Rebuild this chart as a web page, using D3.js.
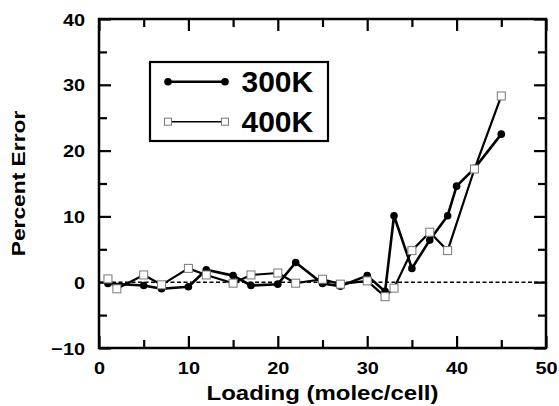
<!DOCTYPE html>
<html>
<head>
<meta charset="utf-8">
<script src="https://cdn.jsdelivr.net/npm/d3@7"></script>
<style>
  body { margin: 0; background: #fff; }
  text { font-family: "Liberation Sans", Arial, Helvetica, sans-serif; font-weight: bold; fill: #000; }
</style>
</head>
<body>
<svg id="chart" width="559" height="406"></svg>
<script>
// values
var loading300 = [1, 5, 7, 10, 12, 15, 17, 20, 22, 25, 27, 30, 32, 33, 35, 37, 39, 40, 42, 45];
var error300   = [-0.2, -0.5, -1.0, -0.7, 1.9, 1.0, -0.5, -0.3, 3.0, -0.2, -0.6, 1.0, -1.4, 10.1, 2.1, 6.4, 10.1, 14.6, 17.3, 22.5];

var loading400 = [1, 2, 5, 7, 10, 12, 15, 17, 20, 22, 25, 27, 30, 32, 33, 35, 37, 39, 42, 45];
var error400   = [0.5, -1.0, 1.1, -0.4, 2.1, 1.1, -0.15, 1.1, 1.4, -0.15, 0.45, -0.3, 0.2, -2.2, -0.9, 4.8, 7.6, 4.8, 17.2, 28.3];

var seriesNames = ["300K", "400K"];

var xMajor = [0, 10, 20, 30, 40, 50];
var xMinor = [5, 15, 25, 35, 45];
var yMajor = [-10, 0, 10, 20, 30, 40];
var yMinor = [-5, 5, 15, 25, 35];

var margin = {top: 19, right: 13, bottom: 58, left: 99},
    width = 559 - margin.left - margin.right,
    height = 406 - margin.top - margin.bottom;

var svg = d3.select("#chart")
  .append("g")
    .attr("transform", "translate(" + margin.left + "," + margin.top + ")");

var x = d3.scaleLinear().domain([0, 50]).range([0, width]);
var y = d3.scaleLinear().domain([-10, 40]).range([height, 0]);

var labelStretch = 1.17;
var fmt = d3.format("");

// ticks on all four sides, pointing inward
function addAxis(axis, cls, transform, labels) {
  var g = svg.append("g")
    .attr("class", cls)
    .attr("transform", transform)
    .call(axis);
  g.select(".domain").remove();
  g.selectAll("line").attr("stroke", "#000").attr("stroke-width", 2.2);
  if (!labels) g.selectAll("text").remove();
  return g;
}

var bottomMajor = addAxis(d3.axisBottom(x).tickValues(xMajor).tickSize(-12).tickSizeOuter(0).tickPadding(26).tickFormat(fmt),
  "x axis", "translate(0," + height + ")", true);
bottomMajor.selectAll("text")
  .attr("dy", null).attr("y", 26)
  .style("font-size", "17px").attr("font-family", null).attr("font-size", null)
  .attr("transform", "scale(" + labelStretch + ",1)");
addAxis(d3.axisBottom(x).tickValues(xMinor).tickSize(-8).tickSizeOuter(0), "x minor", "translate(0," + height + ")", false);
addAxis(d3.axisTop(x).tickValues(xMajor).tickSize(-12).tickSizeOuter(0), "x top", "translate(0,0)", false);
addAxis(d3.axisTop(x).tickValues(xMinor).tickSize(-8).tickSizeOuter(0), "x top minor", "translate(0,0)", false);

var leftMajor = addAxis(d3.axisLeft(y).tickValues(yMajor).tickSize(-12).tickSizeOuter(0).tickPadding(14).tickFormat(fmt),
  "y axis", "translate(0,0)", true);
leftMajor.selectAll("text")
  .attr("x", -14 / labelStretch)
  .attr("dy", "0.36em")
  .style("font-size", "17px").attr("font-family", null).attr("font-size", null)
  .attr("transform", "scale(" + labelStretch + ",1)");
addAxis(d3.axisLeft(y).tickValues(yMinor).tickSize(-8).tickSizeOuter(0), "y minor", "translate(0,0)", false);
addAxis(d3.axisRight(y).tickValues(yMajor).tickSize(-12).tickSizeOuter(0), "y right", "translate(" + width + ",0)", false);
addAxis(d3.axisRight(y).tickValues(yMinor).tickSize(-8).tickSizeOuter(0), "y right minor", "translate(" + width + ",0)", false);

// frame
svg.append("rect")
  .attr("width", width)
  .attr("height", height)
  .attr("fill", "none")
  .attr("stroke", "#000")
  .attr("stroke-width", 2.5);

// zero reference
svg.append("line")
  .attr("x1", x(0)).attr("x2", x(50))
  .attr("y1", y(0)).attr("y2", y(0))
  .attr("stroke", "#000")
  .attr("stroke-width", 1.4)
  .attr("stroke-dasharray", "4,2.5");

var pts300 = loading300.map(function (d, i) { return [d, error300[i]]; });
var pts400 = loading400.map(function (d, i) { return [d, error400[i]]; });

var line = d3.line()
  .x(function (d) { return x(d[0]); })
  .y(function (d) { return y(d[1]); });

// 300K
svg.append("path")
  .datum(pts300)
  .attr("d", line)
  .attr("fill", "none")
  .attr("stroke", "#000")
  .attr("stroke-width", 2.6)
  .attr("stroke-linejoin", "round");

svg.selectAll(".dot300")
  .data(pts300)
  .enter().append("circle")
    .attr("class", "dot300")
    .attr("cx", function (d) { return x(d[0]); })
    .attr("cy", function (d) { return y(d[1]); })
    .attr("r", 3.8)
    .attr("fill", "#000");

// 400K
svg.append("path")
  .datum(pts400)
  .attr("d", line)
  .attr("fill", "none")
  .attr("stroke", "#000")
  .attr("stroke-width", 2.2)
  .attr("stroke-linejoin", "round");

var sq = 8;
svg.selectAll(".sq400")
  .data(pts400)
  .enter().append("rect")
    .attr("class", "sq400")
    .attr("x", function (d) { return x(d[0]) - sq / 2; })
    .attr("y", function (d) { return y(d[1]) - sq / 2; })
    .attr("width", sq)
    .attr("height", sq)
    .attr("fill", "#fff")
    .attr("stroke", "#777")
    .attr("stroke-width", 1);

// axis titles
svg.append("text")
  .attr("transform", "translate(" + (width / 2) + "," + (height + 52) + ") scale(1.2,1)")
  .attr("text-anchor", "middle")
  .style("font-size", "20px")
  .text("Loading (molec/cell)");

svg.append("text")
  .attr("transform", "translate(" + (25 - margin.left) + "," + (height / 2) + ") rotate(-90) scale(1.2,1)")
  .attr("text-anchor", "middle")
  .style("font-size", "19px")
  .text("Percent Error");

// legend
var legend = svg.append("g")
  .attr("transform", "translate(" + (150 - margin.left) + "," + (62 - margin.top) + ")");

legend.append("rect")
  .attr("width", 178)
  .attr("height", 79)
  .attr("fill", "#fff")
  .attr("stroke", "#000")
  .attr("stroke-width", 2.2);

var rows = legend.selectAll(".row")
  .data(seriesNames)
  .enter().append("g")
    .attr("class", "row")
    .attr("transform", function (d, i) { return "translate(0," + (19.7 + i * 40) + ")"; });

rows.append("line")
  .attr("x1", 18).attr("x2", 75)
  .attr("stroke", "#000")
  .attr("stroke-width", function (d, i) { return i === 0 ? 2.6 : 1.5; });

rows.each(function (d, i) {
  var r = d3.select(this);
  [18, 75].forEach(function (cx) {
    if (i === 0) {
      r.append("circle").attr("cx", cx).attr("r", 3.8).attr("fill", "#000");
    } else {
      r.append("rect")
        .attr("x", cx - 3.5).attr("y", -3.5)
        .attr("width", 7).attr("height", 7)
        .attr("fill", "#fff").attr("stroke", "#777").attr("stroke-width", 1);
    }
  });
});

rows.append("text")
  .attr("x", 91.5)
  .attr("y", 10.6)
  .style("font-size", "30px")
  .text(function (d) { return d; });
</script>
</body>
</html>
